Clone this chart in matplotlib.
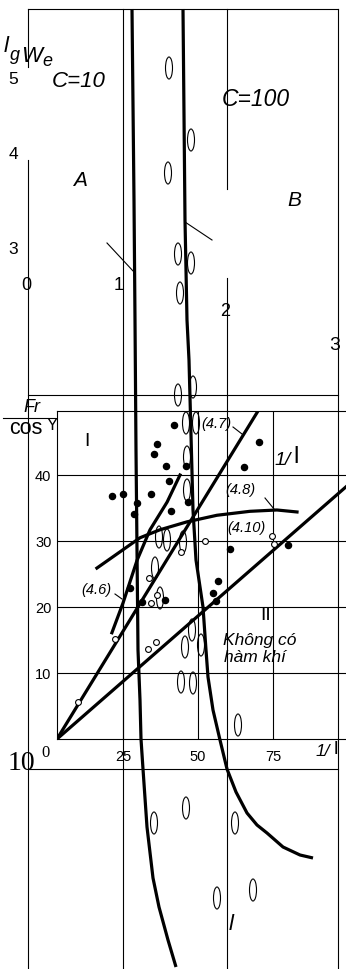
import matplotlib
matplotlib.use("Agg")
import matplotlib.pyplot as plt
from matplotlib.patches import Ellipse

# ---------------- data (inner chart: x = 1/l, y = Fr/cosY) ----------------
x_ticks = [25, 50, 75]
y_ticks = [10, 20, 30, 40]

filled_x = [42.0, 36.3, 35.3, 39.3, 46.0, 40.3, 21.3, 25.0, 34.3, 29.7, 46.7, 28.7,
            41.0, 70.3, 65.3, 60.7, 80.0, 56.7, 55.0, 56.0, 27.3, 31.3, 39.0]
filled_y = [47.6, 44.7, 43.2, 41.4, 41.4, 39.1, 36.8, 37.1, 37.1, 35.8, 35.9, 34.1,
            34.5, 45.0, 41.2, 28.8, 29.4, 23.9, 22.1, 20.9, 22.9, 20.8, 21.1]

open_x = [52.3, 74.7, 75.3, 33.7, 34.3, 36.3, 44.3, 22.3, 36.0, 33.3, 10.0]
open_y = [30.0, 30.8, 29.5, 24.4, 20.6, 21.8, 28.3, 15.2, 14.7, 13.6, 5.6]

line47_x = [3.0, 70.0]
line47_y = [0.0, 49.7]
line410_x = [3.0, 99.3]
line410_y = [0.0, 38.2]
curve48_x = [16.3, 30.7, 37.3, 46.3, 56.3, 67.3, 76.3, 83.0]
curve48_y = [25.9, 30.5, 31.7, 32.9, 33.9, 34.5, 34.7, 34.4]
curve46_x = [21.3, 25.0, 29.7, 34.0, 39.7, 44.0]
curve46_y = [16.1, 20.6, 27.1, 31.7, 35.9, 40.0]

# ---------------- data (outer sketch, canvas units) ----------------
c10_x = [132, 134, 135, 136, 137, 138, 140, 141, 143, 147, 153, 159, 168, 176]
c10_y = [9, 200, 320, 450, 550, 650, 700, 739, 769, 827, 878, 907, 940, 967]
c100_x = [183, 185, 187, 189, 193, 196, 203, 206, 208, 213, 220, 227, 236, 247, 257, 267, 283, 300, 313]
c100_y = [9, 220, 320, 360, 510, 560, 607, 650, 677, 710, 740, 769, 792, 813, 825, 833, 847, 855, 858]

ell_x = [169, 191, 168, 178, 191, 180, 178, 193, 186, 196, 187, 187,
         159, 167, 183, 155, 160, 192, 185, 201, 181, 193, 238,
         154, 186, 235, 217, 253]
ell_y = [68, 140, 173, 254, 263, 293, 395, 387, 423, 423, 457, 490,
         537, 540, 542, 568, 598, 630, 647, 645, 682, 683, 725,
         823, 808, 823, 898, 890]

W, H = 346, 969
FONT = "Liberation Sans"
plt.rcParams["font.family"] = [FONT, "DejaVu Sans"]

fig = plt.figure(figsize=(W / 100, H / 100), dpi=100)
bg = fig.add_axes([0, 0, 1, 1])
bg.set_xlim(0, W)
bg.set_ylim(H, 0)
bg.axis("off")

thin = 0.8
thick = 2.3

# outer frame lines
for x, y0, y1 in [(28, 9, 67), (28, 160, 969), (123, 9, 969), (227, 9, 189),
                  (227, 278, 969), (338, 9, 969)]:
    bg.plot([x, x], [y0, y1], color="black", lw=thin)
for y in [9, 395, 769]:
    bg.plot([28, 338], [y, y], color="black", lw=thin)

# thick curves C=10 / C=100
bg.plot(c10_x, c10_y, color="black", lw=thick, solid_capstyle="butt")
bg.plot(c100_x, c100_y, color="black", lw=thick, solid_capstyle="butt")
bg.plot([107, 134], [243, 272], color="black", lw=thin)
bg.plot([185, 212], [222, 240], color="black", lw=thin)

for ex, ey in zip(ell_x, ell_y):
    bg.add_patch(Ellipse((ex, ey), 7, 22, fill=False, ec="black", lw=0.8))

# outer text
def T(x, y, s, size, style="normal", ha="center", va="center", family=None, weight="normal"):
    bg.text(x, y, s, fontsize=size, style=style, ha=ha, va=va, weight=weight,
            family=family if family else [FONT, "DejaVu Sans"])

T(4, 52, "l", 16, "italic", ha="left", va="baseline")
T(10, 60, "g", 13, "italic", ha="left", va="baseline")
T(21, 62, "W", 16, "italic", ha="left", va="baseline")
T(42, 66, "e", 13, "italic", ha="left", va="baseline")
T(13, 79, "5", 12.5)
T(13, 154, "4", 12.5)
T(13, 249, "3", 12.5)
T(26, 285, "0", 13)
T(119, 285, "1", 13)
T(225, 312, "2", 13)
T(335, 345, "3", 14)
T(79, 81, "C=10", 16, "italic")
T(256, 99, "C=100", 16.5, "italic")
T(80, 180, "A", 15, "italic")
T(294, 200, "B", 15, "italic")
T(231, 925, "l", 16, "italic")

# Fr / cosY
T(32, 408, "Fr", 13, "italic")
bg.plot([3, 55], [418, 418], color="black", lw=thin)
T(26, 429, "cos", 15.5)
T(52, 425, "Y", 12)

# 10^0
T(8, 763, "10", 20, ha="left", family="Liberation Serif")
T(46, 753, "0", 12, family="Liberation Serif")

# inner labels
T(87, 442, "I", 14)
T(283, 460, "1/", 14, "italic")
T(296.5, 457, "l", 17)
T(266, 615, "II", 14)
T(223, 640, "Không có", 12.5, "italic", ha="left")
T(224, 658, "hàm khí", 12.5, "italic", ha="left")
T(216, 424, "(4.7)", 10.5, "italic")
T(240, 490, "(4.8)", 10.5, "italic")
T(246, 528, "(4.10)", 10.5, "italic")
T(96, 590, "(4.6)", 10.5, "italic")
T(323, 752, "1/", 12.5, "italic")
T(335.5, 750, "l", 14)
for (x0, y0, x1, y1) in [(233, 427, 242, 434), (265, 498, 274, 509), (115, 594, 122, 599)]:
    bg.plot([x0, x1], [y0, y1], color="black", lw=thin)

# ---------------- inner chart ----------------
ax = fig.add_axes([57 / W, (H - 739) / H, (W - 57) / W, 328 / H])
ax.set_facecolor("none")
ax.set_xlim(3, 99.33)
ax.set_ylim(0, 49.7)
ax.spines["right"].set_visible(False)
for s in ["left", "top", "bottom"]:
    ax.spines[s].set_linewidth(thin)
ax.set_xticks(x_ticks)
ax.set_yticks(y_ticks)
ax.grid(True, color="black", lw=thin)
ax.tick_params(length=0, labelsize=10.5)
ax.tick_params(axis="x", pad=8)
ax.tick_params(axis="y", pad=4)

ax.plot(line47_x, line47_y, color="black", lw=thick)
ax.plot(line410_x, line410_y, color="black", lw=thick)
ax.plot(curve48_x, curve48_y, color="black", lw=thick)
ax.plot(curve46_x, curve46_y, color="black", lw=thick)
ax.plot(filled_x, filled_y, "o", color="black", ms=4.4, zorder=5)
ax.plot(open_x, open_y, "o", mfc="white", mec="black", mew=0.8, ms=4.2, zorder=5)

fig.savefig("out.png", dpi=100)
